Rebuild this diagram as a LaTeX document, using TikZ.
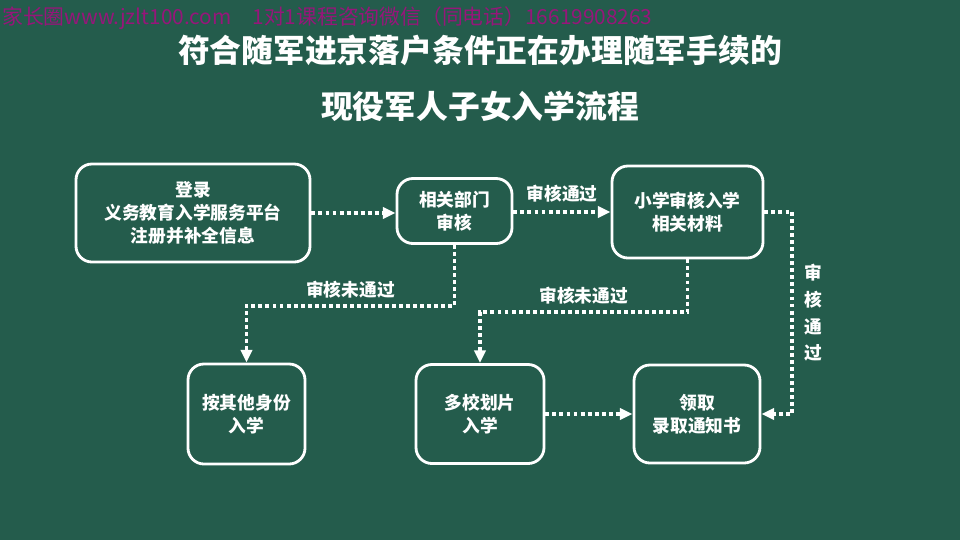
\documentclass[tikz,border=0pt]{standalone}
\usepackage{fontspec}
\setmainfont{Noto Sans CJK SC}
\usepackage{tikz}
\usetikzlibrary{arrows.meta,positioning}
\usepackage{xcolor}
\definecolor{board}{RGB}{36,92,76}
\definecolor{stamp}{RGB}{150,22,122}

\begin{document}
\begin{tikzpicture}[
      x=0.025cm, y=-0.025cm,
      title/.style={font=\fontsize{22.6}{26}\selectfont\bfseries, text=white},
      box/.style={draw=white, line width=2pt, rounded corners=0.4cm,
                  font=\fontsize{12.6}{16.3}\selectfont\bfseries,
                  text=white, align=center, inner sep=0pt},
      flow/.style={white, line width=2.8pt, dash pattern=on 2.8pt off 2.2pt,
                   -{Triangle[length=3.2mm, width=2.8mm]}},
      lbl/.style={font=\fontsize{12.6}{17}\selectfont\bfseries, text=white},
    ]
    % Board
    \fill[board] (0,0) rectangle (960,540);
    \useasboundingbox (0,0) rectangle (960,540);
    \node[text=stamp, anchor=west, inner sep=0pt, font=\fontsize{14.8}{17}\selectfont]
      (stamp) at (2,18) {家长圈www.jzlt100.com\quad 1对1课程咨询微信（同电话）16619908263};

    % Title
    \node[title] (t1) at (480,50) {符合随军进京落户条件正在办理随军手续的};
    \node[title] (t2) at (480,106) {现役军人子女入学流程};

    % Top row
    \node[box, minimum width=5.85cm, minimum height=2.45cm] (login) at (193,213)
      {登录\\义务教育入学服务平台\\注册并补全信息};
    \node[box, minimum width=2.875cm, minimum height=1.625cm] (dept) at (454.5,211)
      {相关部门\\审核};
    \node[box, minimum width=3.775cm, minimum height=2.3cm] (school) at (687.5,212)
      {小学审核入学\\相关材料};

    % Bottom row
    \node[box, minimum width=2.925cm, minimum height=2.5cm] (other) at (246.5,414)
      {按其他身份\\入学};
    \node[box, minimum width=3.2cm, minimum height=2.475cm] (multi) at (480,414)
      {多校划片\\入学};
    \node[box, minimum width=3.15cm, minimum height=2.45cm] (notice) at (697,414)
      {领取\\录取通知书};

    % Connectors
    \draw[flow] (login.east) -- (login.east -| dept.west);
    \draw[flow] (dept.east |- school) -- node[lbl, above=2pt] {审核通过} (school.west);
    \draw[flow] (dept.south) -- ++(0,61) -| node[lbl, pos=0.25, above=1pt] {审核未通过}
      (other.north);
    \draw[flow] (school.south) -- ++(0,53) -| node[lbl, pos=0.25, above=1pt] {审核未通过}
      (multi.north);
    \draw[flow] (school.east) -- ++(28,0) |- node[lbl, pos=0.25, right=4pt, align=center,
      font=\fontsize{12.6}{19}\selectfont\bfseries] {审\\核\\通\\过} (notice.east);
    \draw[flow] (multi) -- (notice);
  \end{tikzpicture}
\end{document}
